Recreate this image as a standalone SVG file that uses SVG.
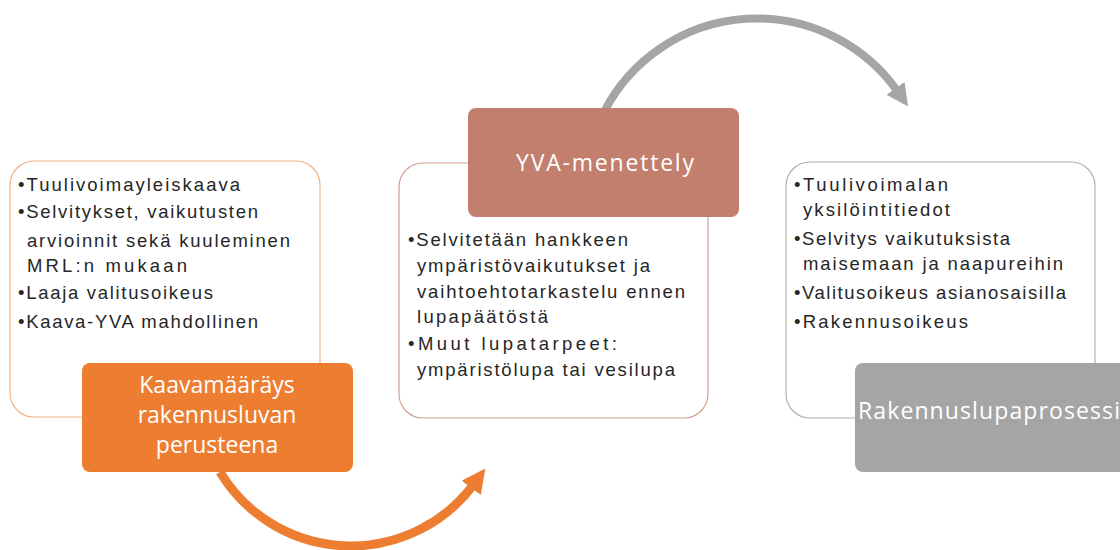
<svg xmlns="http://www.w3.org/2000/svg" width="1120" height="550" viewBox="0 0 1120 550">
<defs>
<style>
.body{font-family:"Liberation Sans",Arial,sans-serif;font-size:18.5px;fill:#262626}
.head{font-family:"Open Sans","Liberation Sans",sans-serif;font-size:23px;fill:#ffffff;text-anchor:middle}
.outline{fill:#ffffff;stroke-width:1.2}
</style>
<marker id="arrO" markerUnits="userSpaceOnUse" markerWidth="24" markerHeight="24" viewBox="0 0 10 10" refX="2" refY="5" orient="auto"><path d="M0,0 L10,5 L0,10 z" fill="#ED7D31"/></marker>
<marker id="arrG" markerUnits="userSpaceOnUse" markerWidth="22" markerHeight="22" viewBox="0 0 10 10" refX="2" refY="5" orient="auto"><path d="M0,0 L10,5 L0,10 z" fill="#A5A5A5"/></marker>
</defs>
<rect width="1120" height="550" fill="#ffffff"/>
<g id="connectors" fill="none">
<path d="M220 472 A153 153 0 0 0 474 484" stroke="#ED7D31" stroke-width="9" marker-end="url(#arrO)"/>
<path d="M605 110 A172 172 0 0 1 898 92" stroke="#A5A5A5" stroke-width="8" marker-end="url(#arrG)"/>
</g>
<g id="box1">
<rect class="outline" x="10" y="161" width="310" height="256" rx="24" stroke="#F4B183"/>
<text class="body" x="18" y="191" textLength="222" lengthAdjust="spacing">•Tuulivoimayleiskaava</text>
<text class="body" x="18" y="218" textLength="240" lengthAdjust="spacing">•Selvitykset, vaikutusten</text>
<text class="body" x="27" y="247" textLength="263" lengthAdjust="spacing">arvioinnit sekä kuuleminen</text>
<text class="body" x="27" y="272" textLength="160" lengthAdjust="spacing">MRL:n mukaan</text>
<text class="body" x="18" y="299" textLength="195" lengthAdjust="spacing">•Laaja valitusoikeus</text>
<text class="body" x="18" y="328" textLength="240" lengthAdjust="spacing">•Kaava-YVA mahdollinen</text>
</g>
<g id="node1">
<rect x="82" y="363" width="271" height="109" rx="8" fill="#ED7D31"/>
<text class="head" x="217" y="393">Kaavamääräys</text>
<text class="head" x="217" y="423">rakennusluvan</text>
<text class="head" x="217" y="453">perusteena</text>
</g>
<g id="box2">
<rect class="outline" x="399" y="163" width="309" height="255" rx="24" stroke="#D1A193"/>
<text class="body" x="408" y="246" textLength="220" lengthAdjust="spacing">•Selvitetään hankkeen</text>
<text class="body" x="417" y="272" textLength="233" lengthAdjust="spacing">ympäristövaikutukset ja</text>
<text class="body" x="417" y="298" textLength="268" lengthAdjust="spacing">vaihtoehtotarkastelu ennen</text>
<text class="body" x="417" y="323" textLength="131" lengthAdjust="spacing">lupapäätöstä</text>
<text class="body" x="408" y="350" textLength="209" lengthAdjust="spacing">•Muut lupatarpeet:</text>
<text class="body" x="417" y="376" textLength="258" lengthAdjust="spacing">ympäristölupa tai vesilupa</text>
</g>
<g id="node2">
<rect x="468" y="108" width="271" height="109" rx="8" fill="#C27F6D"/>
<text class="head" x="605" y="171" textLength="178" lengthAdjust="spacing">YVA-menettely</text>
</g>
<g id="box3">
<rect class="outline" x="786" y="162" width="309" height="256" rx="24" stroke="#B0B0B0"/>
<text class="body" x="794" y="191" textLength="154" lengthAdjust="spacing">•Tuulivoimalan</text>
<text class="body" x="803" y="216" textLength="147" lengthAdjust="spacing">yksilöintitiedot</text>
<text class="body" x="794" y="245" textLength="216" lengthAdjust="spacing">•Selvitys vaikutuksista</text>
<text class="body" x="803" y="270" textLength="260" lengthAdjust="spacing">maisemaan ja naapureihin</text>
<text class="body" x="794" y="299" textLength="272" lengthAdjust="spacing">•Valitusoikeus asianosaisilla</text>
<text class="body" x="794" y="328" textLength="174" lengthAdjust="spacing">•Rakennusoikeus</text>
</g>
<g id="node3">
<rect x="855" y="363" width="275" height="109" rx="8" fill="#A5A5A5"/>
<text class="head" x="858" y="419" style="text-anchor:start" textLength="262" lengthAdjust="spacing">Rakennuslupaprosessi</text>
</g>
</svg>
